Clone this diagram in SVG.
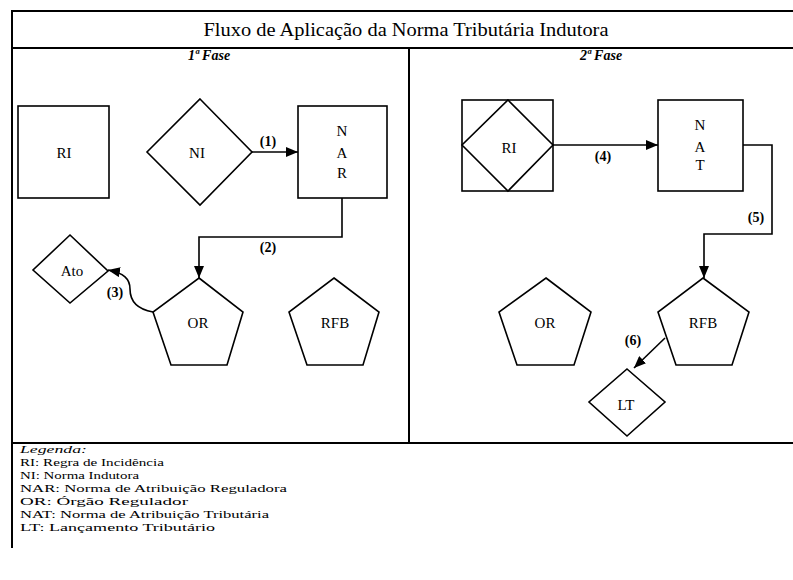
<svg xmlns="http://www.w3.org/2000/svg" width="793" height="580" viewBox="0 0 793 580" font-family="'Liberation Serif', 'Times New Roman', serif">
<defs>
<style>
text{font-family:"Liberation Serif","Times New Roman",serif;fill:#000}
.frame{fill:none;stroke:#000;stroke-width:2}
.shape{fill:#fff;stroke:#000;stroke-width:1.6}
.lbl{font-size:15px;text-anchor:middle}
.num{font-size:14px;font-weight:bold;text-anchor:middle}
.phase{font-size:14px;font-style:italic;font-weight:bold;text-anchor:middle}
.leg{font-size:11.2px}
.conn{fill:none;stroke:#000;stroke-width:1.6}
</style>
<marker id="ahb" viewBox="0 0 10 10" refX="10" refY="5" markerWidth="12" markerHeight="10" markerUnits="userSpaceOnUse" orient="auto" preserveAspectRatio="none">
<path d="M0,0 L10,5 L0,10 z" fill="#000"/>
</marker>
</defs>
<rect width="793" height="580" fill="#fff"/>
<g id="frame">
<line class="frame" x1="12" y1="11" x2="793" y2="11"/>
<line class="frame" x1="12" y1="48" x2="793" y2="48"/>
<line class="frame" x1="12" y1="443" x2="793" y2="443"/>
<line class="frame" x1="12" y1="10" x2="12" y2="548"/>
<line class="frame" x1="409" y1="48" x2="409" y2="443" stroke-width="1.6"/>
<text x="406" y="36" font-size="19" text-anchor="middle" textLength="405" lengthAdjust="spacingAndGlyphs">Fluxo de Aplicação da Norma Tributária Indutora</text>
<text class="phase" x="209" y="60">1ª Fase</text>
<text class="phase" x="601" y="60">2ª Fase</text>
</g>
<g id="connectors">
<line class="conn" x1="252" y1="152" x2="298" y2="152" marker-end="url(#ahb)"/>
<text class="num" x="268" y="146">(1)</text>
<polyline class="conn" points="342,198 342,237 199,237 199,278" marker-end="url(#ahb)"/>
<text class="num" x="268" y="252">(2)</text>
<path class="conn" d="M153,312 C136,309 130,300 130,289 C130,279 124,273 108,270" marker-end="url(#ahb)"/>
<text class="num" x="115" y="297">(3)</text>
<line class="conn" x1="553" y1="145" x2="658" y2="145" marker-end="url(#ahb)"/>
<text class="num" x="603" y="161">(4)</text>
<polyline class="conn" points="743,145 772,145 772,234 704,234 704,278" marker-end="url(#ahb)"/>
<text class="num" x="756" y="222">(5)</text>
<line class="conn" x1="665" y1="338" x2="634" y2="368" marker-end="url(#ahb)"/>
<text class="num" x="633" y="345">(6)</text>
</g>
<g id="RI1">
<rect class="shape" x="18" y="106" width="91" height="92"/>
<text class="lbl" x="64" y="158">RI</text>
</g>
<g id="NI">
<polygon class="shape" points="200,99 252,152 200,205 147,152"/>
<text class="lbl" x="197" y="158">NI</text>
</g>
<g id="NAR">
<rect class="shape" x="298" y="106" width="89" height="92"/>
<text class="lbl" x="342" y="136">N</text>
<text class="lbl" x="342" y="158">A</text>
<text class="lbl" x="342" y="178">R</text>
</g>
<g id="Ato">
<polygon class="shape" points="70,235 108,271 70,303 33,270"/>
<text class="lbl" x="72" y="276">Ato</text>
</g>
<g id="OR1">
<polygon class="shape" points="199,278 243,312 227,365 171,365 153,312"/>
<text class="lbl" x="198" y="328">OR</text>
</g>
<g id="RFB1">
<polygon class="shape" points="334,278 379,312 363,365 307,365 289,312"/>
<text class="lbl" x="335" y="328">RFB</text>
</g>
<g id="RI2">
<rect class="shape" x="462" y="100" width="91" height="91"/>
<polygon class="shape" points="508,100 553,145 508,191 462,145"/>
<text class="lbl" x="509" y="153">RI</text>
</g>
<g id="NAT">
<rect class="shape" x="658" y="100" width="85" height="91"/>
<text class="lbl" x="700" y="130">N</text>
<text class="lbl" x="700" y="152">A</text>
<text class="lbl" x="700" y="170">T</text>
</g>
<g id="OR2">
<polygon class="shape" points="546,278 591,312 574,365 517,365 499,312"/>
<text class="lbl" x="545" y="328">OR</text>
</g>
<g id="RFB2">
<polygon class="shape" points="703,278 749,312 732,365 676,365 658,312"/>
<text class="lbl" x="703" y="328">RFB</text>
</g>
<g id="LT">
<polygon class="shape" points="627,369 665,402 627,436 589,402"/>
<text class="lbl" x="626" y="410">LT</text>
</g>
<g id="legend">
<text class="leg" x="20" y="453" font-style="italic" textLength="67" lengthAdjust="spacingAndGlyphs">Legenda:</text>
<text class="leg" x="20" y="466" textLength="144" lengthAdjust="spacingAndGlyphs">RI: Regra de Incidência</text>
<text class="leg" x="20" y="479" textLength="119" lengthAdjust="spacingAndGlyphs">NI: Norma Indutora</text>
<text class="leg" x="20" y="492" textLength="267" lengthAdjust="spacingAndGlyphs">NAR: Norma de Atribuição Reguladora</text>
<text class="leg" x="20" y="505" textLength="168" lengthAdjust="spacingAndGlyphs">OR: Órgão Regulador</text>
<text class="leg" x="20" y="518" textLength="249" lengthAdjust="spacingAndGlyphs">NAT: Norma de Atribuição Tributária</text>
<text class="leg" x="20" y="531" textLength="195" lengthAdjust="spacingAndGlyphs">LT: Lançamento Tributário</text>
</g>
</svg>
